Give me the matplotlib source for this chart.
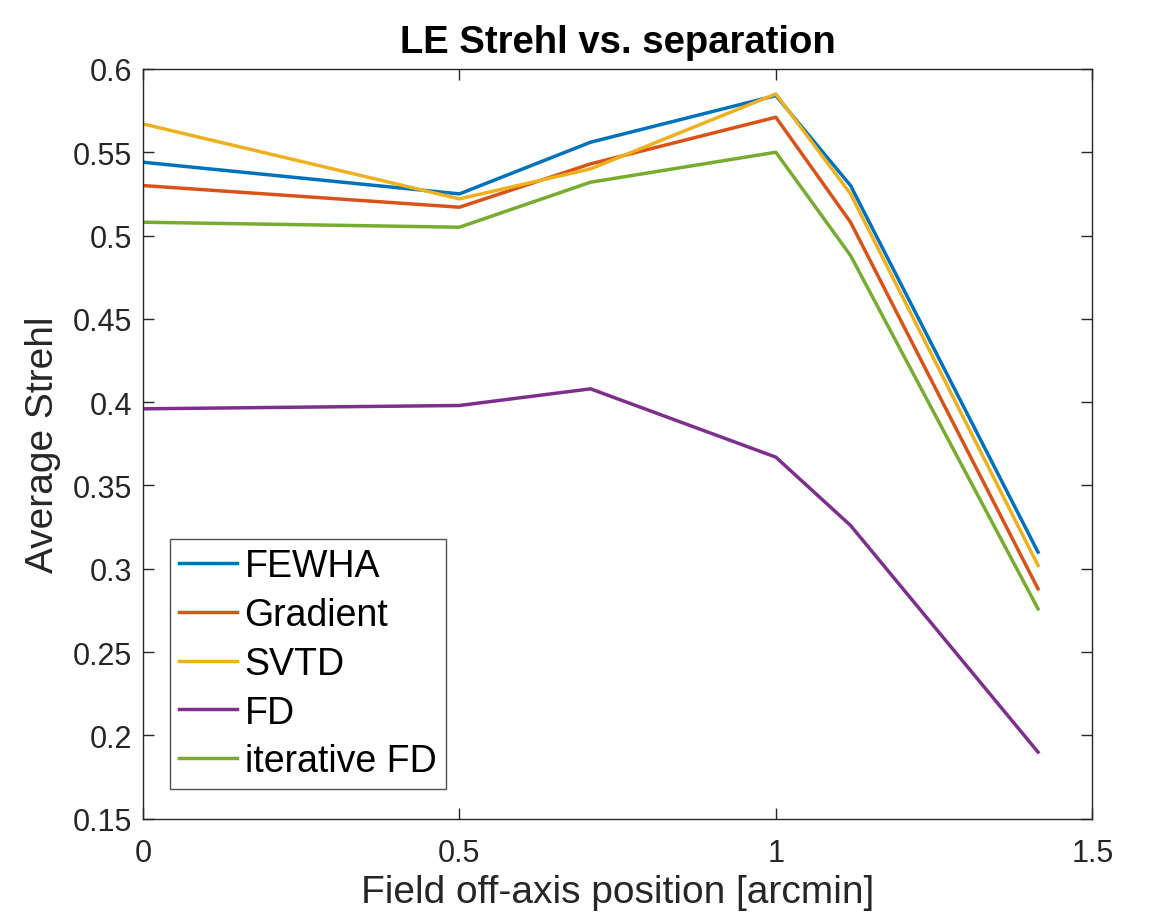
import matplotlib.pyplot as plt
import numpy as np

# field positions [arcmin]
sep = [0, 0.5, 0.7071, 1.0, 1.118, 1.4142]

fewha = [0.544, 0.525, 0.556, 0.584, 0.530, 0.310]
gradient = [0.530, 0.517, 0.543, 0.571, 0.508, 0.288]
svtd = [0.567, 0.522, 0.540, 0.585, 0.525, 0.302]
fd = [0.396, 0.398, 0.408, 0.367, 0.326, 0.190]
iter_fd = [0.508, 0.505, 0.532, 0.550, 0.488, 0.276]

names = ["FEWHA", "Gradient", "SVTD", "FD", "iterative FD"]
colors = ["#0072BD", "#D95319", "#EDB120", "#7E2F8E", "#77AC30"]

plt.rcParams['font.family'] = ['Liberation Sans', 'DejaVu Sans']

fig = plt.figure(figsize=(11.72, 9.2), dpi=100)
ax = fig.add_axes([0.122, 0.109, 0.810, 0.815])

for ys, name, c in zip([fewha, gradient, svtd, fd, iter_fd], names, colors):
    ax.plot(sep, ys, color=c, lw=2.5, label=name)

ax.set_xlim(0, 1.5)
ax.set_ylim(0.15, 0.6)
ax.set_xticks([0, 0.5, 1, 1.5])
ax.set_xticklabels(["0", "0.5", "1", "1.5"])
ax.set_yticks(np.arange(0.15, 0.601, 0.05))
ax.set_yticklabels(["0.15", "0.2", "0.25", "0.3", "0.35", "0.4", "0.45", "0.5", "0.55", "0.6"])
ax.tick_params(direction='in', length=8, width=1, labelsize=22, colors='#262626',
               top=True, right=True)
ax.tick_params(axis='x', pad=14)
ax.tick_params(axis='y', pad=8)
for s in ax.spines.values():
    s.set_color('#262626')
    s.set_linewidth(1)

ax.set_xlabel("Field off-axis position [arcmin]", fontsize=28, color='#262626', labelpad=4)
ax.set_ylabel("Average Strehl", fontsize=28, color='#262626', labelpad=8)
ax.set_title("LE Strehl vs. separation", fontsize=27.5, fontweight='bold', pad=12)

# legend box, bottom-left
leg = ax.legend(loc='lower left', bbox_to_anchor=(0.028, 0.04), fontsize=27,
                frameon=True, fancybox=False, handlelength=1.55, handletextpad=0.2,
                borderpad=0.25, labelspacing=0.34, borderaxespad=0)
leg.get_frame().set_edgecolor('#262626')
leg.get_frame().set_linewidth(1)

fig.savefig("out.png", dpi=100)
